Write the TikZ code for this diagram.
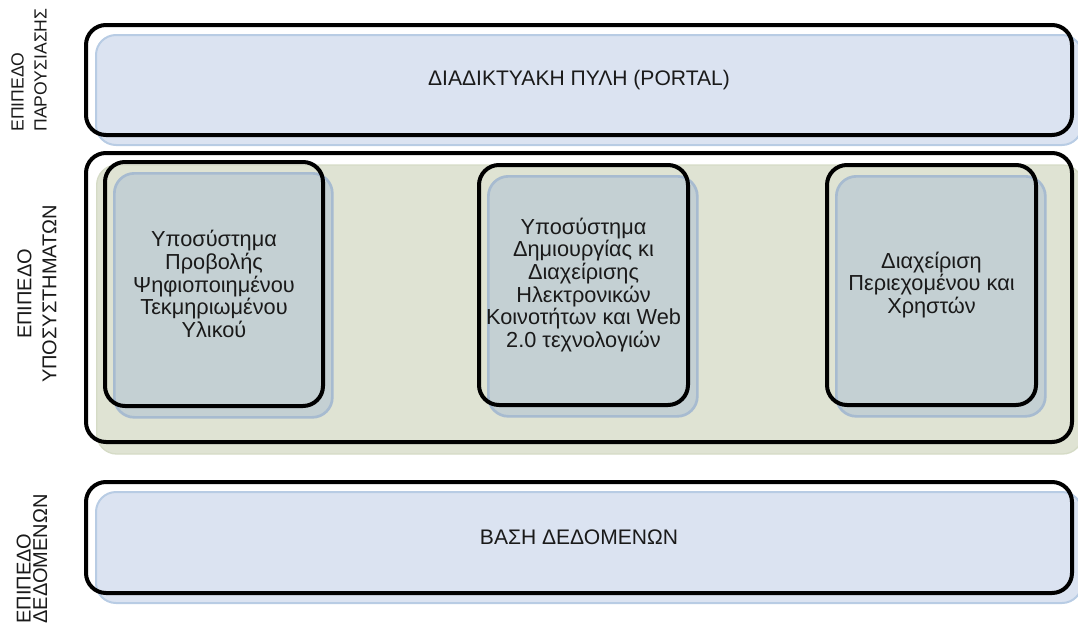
\documentclass[tikz,border=0pt]{standalone}
\usepackage{fontspec}
\setmainfont{Liberation Sans}
\usetikzlibrary{shadows}

\definecolor{portalfill}{HTML}{DBE3F1}
\definecolor{portalrim}{HTML}{B8CCE4}
\definecolor{midfill}{HTML}{DFE3D3}
\definecolor{midrim}{HTML}{D5DBC6}
\definecolor{subfill}{HTML}{C4D0D3}
\definecolor{subrim}{HTML}{A7BBD0}
\definecolor{inktext}{HTML}{1A1A1A}

\begin{document}
\begin{tikzpicture}[
x=0.75pt, y=-0.75pt,
layer/.style={rectangle, rounded corners=15pt, draw=black, line width=3pt, text=inktext, align=center, font=\fontsize{15.8}{18}\selectfont, minimum width=739.5pt},
bluelayer/.style={layer, general shadow={fill=portalfill, draw=portalrim, line width=1.5pt, shadow xshift=7.5pt, shadow yshift=-7.5pt}},
greenlayer/.style={layer, general shadow={fill=midfill, draw=midrim, line width=1pt, shadow xshift=8pt, shadow yshift=-9pt}},
subsys/.style={rectangle, rounded corners=15pt, draw=black, line width=3pt, text=inktext, align=center, font=\fontsize{16.3}{17}\selectfont, general shadow={fill=subfill, draw=subrim, line width=2pt, shadow xshift=7pt, shadow yshift=-8.5pt}},
sidelabel/.style={rotate=90, text=inktext, font=\fontsize{15}{17}\selectfont}
]
\useasboundingbox (0,0) rectangle (1078,625);

% layers
\node[bluelayer, minimum height=82.5pt] (portal) at (579,80) {ΔΙΑΔΙΚΤΥΑΚΗ ΠΥΛΗ (PORTAL)};
\node[greenlayer, minimum height=216.75pt] (subsystems) at (579,297.5) {};
\node[bluelayer, minimum height=83.25pt] (database) at (579,537.5) {ΒΑΣΗ ΔΕΔΟΜΕΝΩΝ};

% subsystems
\node[subsys, minimum width=163.5pt, minimum height=183pt] (viewer) at (214,284) {Υποσύστημα\\Προβολής\\Ψηφιοποιημένου\\Τεκμηριωμένου\\Υλικού};
\node[subsys, minimum width=156.75pt, minimum height=180pt] (community) at (583.5,285) {Υποσύστημα\\Δημιουργίας κι\\Διαχείρισης\\Ηλεκτρονικών\\Κοινοτήτων και Web\\2.0 τεχνολογιών};
\node[subsys, minimum width=156.75pt, minimum height=180pt] (admin) at (931.5,285) {Διαχείριση\\Περιεχομένου και\\Χρηστών};

% side labels
\node[sidelabel, align=left, font=\fontsize{13.2}{17.25}\selectfont] (lblportal) at (29,70) {ΕΠΙΠΕΔΟ\\ΠΑΡΟΥΣΙΑΣΗΣ};
\node[sidelabel, align=center, font=\fontsize{15}{18.75}\selectfont] (lblsubsys) at (37,294) {ΕΠΙΠΕΔΟ\\ΥΠΟΣΥΣΤΗΜΑΤΩΝ};
\node[sidelabel, align=left, font=\fontsize{15}{12.5}\selectfont] (lbldata) at (32,559) {ΕΠΙΠΕΔΟ\\ΔΕΔΟΜΕΝΩΝ};

\end{tikzpicture}
\end{document}
